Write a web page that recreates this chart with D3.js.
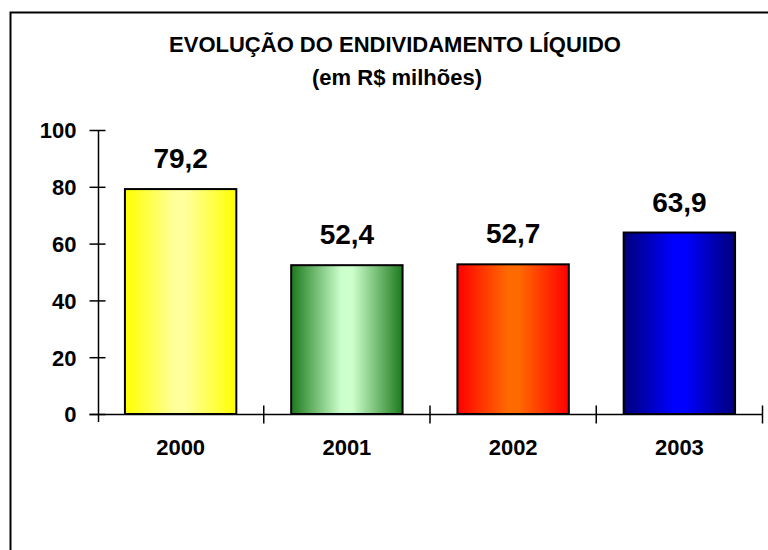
<!DOCTYPE html>
<html>
<head>
<meta charset="utf-8">
<script src="https://cdn.jsdelivr.net/npm/d3@7"></script>
<style>
body { margin: 0; background: #fff; }
text { font-family: Arial, "Liberation Sans", sans-serif; font-weight: bold; fill: #000; }
</style>
</head>
<body>
<div id="chart_area"></div>
<script>
// data
var sYears = ["2000", "2001", "2002", "2003"];
var sValues = [79.2, 52.4, 52.7, 63.9];
var sLabels = ["79,2", "52,4", "52,7", "63,9"];
var sTicks = [0, 20, 40, 60, 80, 100];
var sEdgeColors = ["#ffff00", "#1c7a1c", "#ff0000", "#00007a"];
var sMidColors = ["#ffff9c", "#ccffcc", "#ff6a00", "#0000ff"];

var sFrameWidth = 768;
var sFrameHeight = 550;

var sFrame = d3.select("#chart_area").append("svg")
	.attr("width", sFrameWidth)
	.attr("height", sFrameHeight);

//outer border (runs off the right and bottom)
sFrame.append("rect")
	.attr("x", 10.5).attr("y", 12.5)
	.attr("width", 800).attr("height", 600)
	.attr("fill", "none").attr("stroke", "#000").attr("stroke-width", 2);

//gradients
var sDefs = sFrame.append("defs");
sYears.forEach(function(pYear, i){
	var sGrad = sDefs.append("linearGradient")
		.attr("id", "grad" + i)
		.attr("x1", "0%").attr("x2", "100%").attr("y1", "0%").attr("y2", "0%");
	sGrad.append("stop").attr("offset", "0%").attr("stop-color", sEdgeColors[i]);
	sGrad.append("stop").attr("offset", "45%").attr("stop-color", sMidColors[i]);
	sGrad.append("stop").attr("offset", "55%").attr("stop-color", sMidColors[i]);
	sGrad.append("stop").attr("offset", "100%").attr("stop-color", sEdgeColors[i]);
});

//title
sFrame.append("text")
	.attr("x", 395).attr("y", 52)
	.attr("text-anchor", "middle")
	.style("font-size", "22px")
	.text("EVOLUÇÃO DO ENDIVIDAMENTO LÍQUIDO");
sFrame.append("text")
	.attr("x", 397).attr("y", 85)
	.attr("text-anchor", "middle")
	.style("font-size", "22px")
	.text("(em R$ milhões)");

//scales
var sX = d3.scaleBand()
	.domain(sYears)
	.range([97.5, 762.5])
	.paddingInner(0.33)
	.paddingOuter(0.165);

var sY = d3.scaleLinear()
	.domain([0, 100])
	.range([414, 130]);

//y axis
var sYAxis = sFrame.append("g")
	.attr("transform", "translate(98.5,0)")
	.call(d3.axisLeft(sY).tickValues(sTicks).tickSize(9).tickPadding(13));
sYAxis.select(".domain").attr("d", "M0," + sY(100) + "V" + (sY(0) + 8));
sYAxis.selectAll(".tick line").attr("x1", 7).attr("stroke-width", 1.5);
sYAxis.selectAll("path, line").attr("stroke", "#000").attr("stroke-width", 1.5);
sYAxis.selectAll("text").style("font-size", "22px").attr("dy", "0.36em");

//x axis
var sXAxis = sFrame.append("g")
	.attr("transform", "translate(0," + (sY(0) + 0.5) + ")")
	.call(d3.axisBottom(sX).tickSize(0).tickPadding(25));
sXAxis.select(".domain").attr("d", "M" + (97.5 - 8) + ",0H" + sX.range()[1]);
sXAxis.selectAll("path").attr("stroke", "#000").attr("stroke-width", 1.5);
sXAxis.selectAll("text").style("font-size", "22px");

//boundary ticks between categories
var sBounds = sYears.map(function(d){ return sX(d) - sX.step() * sX.paddingOuter(); });
sBounds.push(sX.range()[1]);
sXAxis.selectAll(".bound").data(sBounds.slice(1)).enter().append("line")
	.attr("class", "bound")
	.attr("x1", function(d){ return d; }).attr("x2", function(d){ return d; })
	.attr("y1", -9).attr("y2", 9)
	.attr("stroke", "#000").attr("stroke-width", 1.5);

//bars
sFrame.selectAll(".bar").data(sValues).enter().append("rect")
	.attr("class", "bar")
	.attr("x", function(d, i){ return sX(sYears[i]); })
	.attr("y", function(d){ return sY(d); })
	.attr("width", sX.bandwidth())
	.attr("height", function(d){ return sY(0) - sY(d); })
	.attr("fill", function(d, i){ return "url(#grad" + i + ")"; })
	.attr("stroke", "#000").attr("stroke-width", 2);

//value labels
sFrame.selectAll(".val").data(sValues).enter().append("text")
	.attr("class", "val")
	.attr("x", function(d, i){ return sX(sYears[i]) + sX.bandwidth() / 2; })
	.attr("y", function(d){ return sY(d) - 21; })
	.attr("text-anchor", "middle")
	.style("font-size", "28px")
	.text(function(d, i){ return sLabels[i]; });
</script>
</body>
</html>
